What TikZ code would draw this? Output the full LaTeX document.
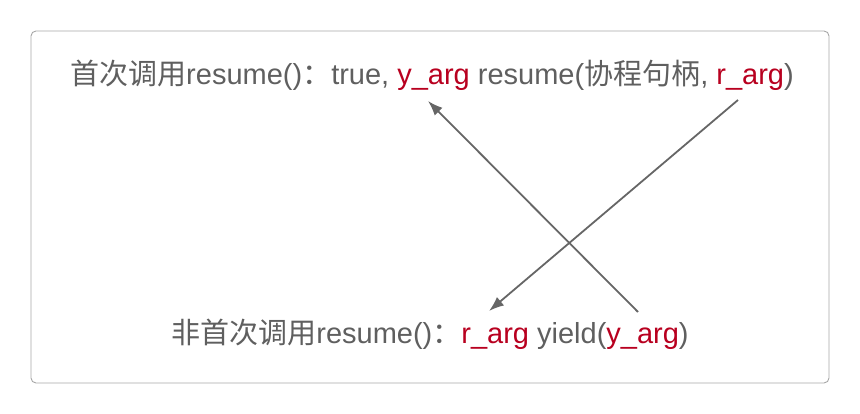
\documentclass[tikz,border=0pt]{standalone}
\usepackage{fontspec}
\setmainfont{Liberation Sans}
\newfontfamily\cjk{Noto Sans CJK SC}
\usetikzlibrary{arrows.meta}
\definecolor{textgray}{HTML}{5F5F5F}
\definecolor{argred}{HTML}{B8001F}
\newcommand{\hlred}[1]{\textcolor{argred}{#1}}
\tikzset{%
  frame/.style = {draw=black!35, line width=0.9pt, rounded corners=5pt},
  callline/.style = {text=textgray, font=\fontsize{29}{34}\selectfont,
    inner sep=0pt},
  flow/.style = {draw=black!60, line width=1.8pt,
    -{Latex[length=15pt,width=11pt]}}
}
\begin{document}
\begin{tikzpicture}[x=1pt,y=1pt]
  \useasboundingbox (0,0) rectangle (860,414);
  \draw[frame] (31,31) rectangle (829,383);
  % the two call lines
  \node[callline] (first) at (432,339)
    {{\cjk 首次调用}resume(){\cjk ：}true, \hlred{y\_arg} resume({\cjk 协程句柄}, \hlred{r\_arg})};
  \node[callline] (later) at (430,80)
    {{\cjk 非首次调用}resume(){\cjk ：}\hlred{r\_arg} yield(\hlred{y\_arg})};
  % arrow ends
  \coordinate (yfrom) at (638,102);
  \coordinate (yto) at (428,313);
  \coordinate (rfrom) at (738,314);
  \coordinate (rto) at (489,103);
  \draw[flow] (yfrom) -- (yto);
  \draw[flow] (rfrom) -- (rto);
\end{tikzpicture}
\end{document}
